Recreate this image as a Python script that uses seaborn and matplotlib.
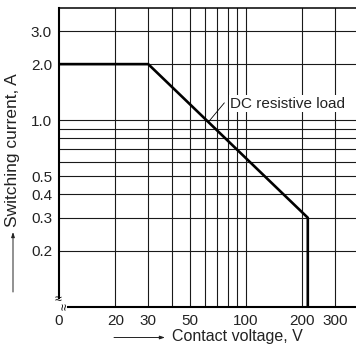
import matplotlib
matplotlib.use('Agg')
import matplotlib.pyplot as plt
import seaborn as sns
import pandas as pd

# ---- data ----
voltage = [10, 30, 214, 214]
current = [2.0, 2.0, 0.3, 0.1]
x_ticks = [10, 20, 30, 50, 100, 200, 300]
x_tick_labels = ['0', '20', '30', '50', '100', '200', '300']
x_grid = [20, 30, 40, 50, 60, 70, 80, 90, 100, 200, 300]
y_ticks = [0.2, 0.3, 0.4, 0.5, 1.0, 2.0, 3.0]
y_tick_labels = ['0.2', '0.3', '0.4', '0.5', '1.0', '2.0', '3.0']
y_grid = [0.2, 0.3, 0.4, 0.5, 0.6, 0.7, 0.8, 0.9, 1.0, 2.0, 3.0]
annot_text = 'DC resistive load'
x_label = 'Contact voltage, V'
y_label = 'Switching current, A'

sns.set_theme(style='white')
plt.rcParams['font.family'] = ['Liberation Sans', 'DejaVu Sans']

W, H = 356, 350
fig = plt.figure(figsize=(W / 100, H / 100), dpi=100)
ax = fig.add_axes([59 / W, 43.3 / H, 299.6 / W, 298.7 / H])

df = pd.DataFrame({'voltage': voltage, 'current': current})
ax.set_xscale('log')
ax.set_yscale('log')
sns.lineplot(data=df, x='voltage', y='current', sort=False, estimator=None,
             color='black', lw=1.9, ax=ax, zorder=5)
ax.set_xlim(10, 400)
ax.set_ylim(0.1, 4.0)

for xv in x_grid:
    ax.axvline(xv, color='#1a1a1a', lw=0.8, zorder=1)
for yv in y_grid:
    ax.axhline(yv, color='#1a1a1a', lw=0.8, zorder=1)

ax.set_xticks(x_ticks)
ax.set_xticklabels(x_tick_labels)
ax.set_yticks(y_ticks)
ax.set_yticklabels(y_tick_labels)
ax.minorticks_off()
ax.tick_params(axis='both', length=0, pad=5, labelsize=11, labelcolor='#222222')
ax.set_xlabel('')
ax.set_ylabel('')

for s in ['left', 'bottom', 'top']:
    ax.spines[s].set_visible(True)
    ax.spines[s].set_color('black')
ax.spines['right'].set_visible(False)
ax.spines['left'].set_linewidth(1.5)
ax.spines['bottom'].set_linewidth(1.5)
ax.spines['top'].set_linewidth(1.1)
ax.spines['left'].set_bounds(0.1113, 4.0)
ax.spines['bottom'].set_bounds(11.17, 400)

# axis break marks
fig.text(58 / W, 1 - 300 / H, '≈', fontsize=9, ha='center', va='center',
         color='black')
fig.text(65.5 / W, 1 - 306.5 / H, '≈', fontsize=9, rotation=90,
         ha='center', va='center', color='black')

# annotation
ax.annotate('', xy=(63, 0.98), xytext=(76.6, 1.24),
            arrowprops=dict(arrowstyle='-', color='black', lw=0.6,
                            shrinkA=0, shrinkB=0), zorder=6)
ax.text(82, 1.227, annot_text, ha='left', va='center', fontsize=11,
        color='#222222', zorder=6,
        bbox=dict(facecolor='white', edgecolor='none', pad=1))

# axis labels with arrows
fig.text(172 / W, 1 - 337 / H, x_label, ha='left', va='center', fontsize=11.5,
         color='#222222')
fig.add_artist(matplotlib.patches.FancyArrowPatch(
    (114 / W, 1 - 337.5 / H), (165 / W, 1 - 337.5 / H),
    transform=fig.transFigure, arrowstyle='-|>,head_length=3,head_width=1',
    color='#222222', lw=0.7, shrinkA=0, shrinkB=0))
fig.text(13 / W, 1 - 150 / H, y_label, ha='center', va='center', fontsize=12.5,
         rotation=90, color='#222222')
fig.add_artist(matplotlib.patches.FancyArrowPatch(
    (13 / W, 1 - 292 / H), (13 / W, 1 - 232 / H),
    transform=fig.transFigure, arrowstyle='-|>,head_length=3,head_width=1',
    color='#222222', lw=0.7, shrinkA=0, shrinkB=0))

fig.savefig('out.png', dpi=100)
